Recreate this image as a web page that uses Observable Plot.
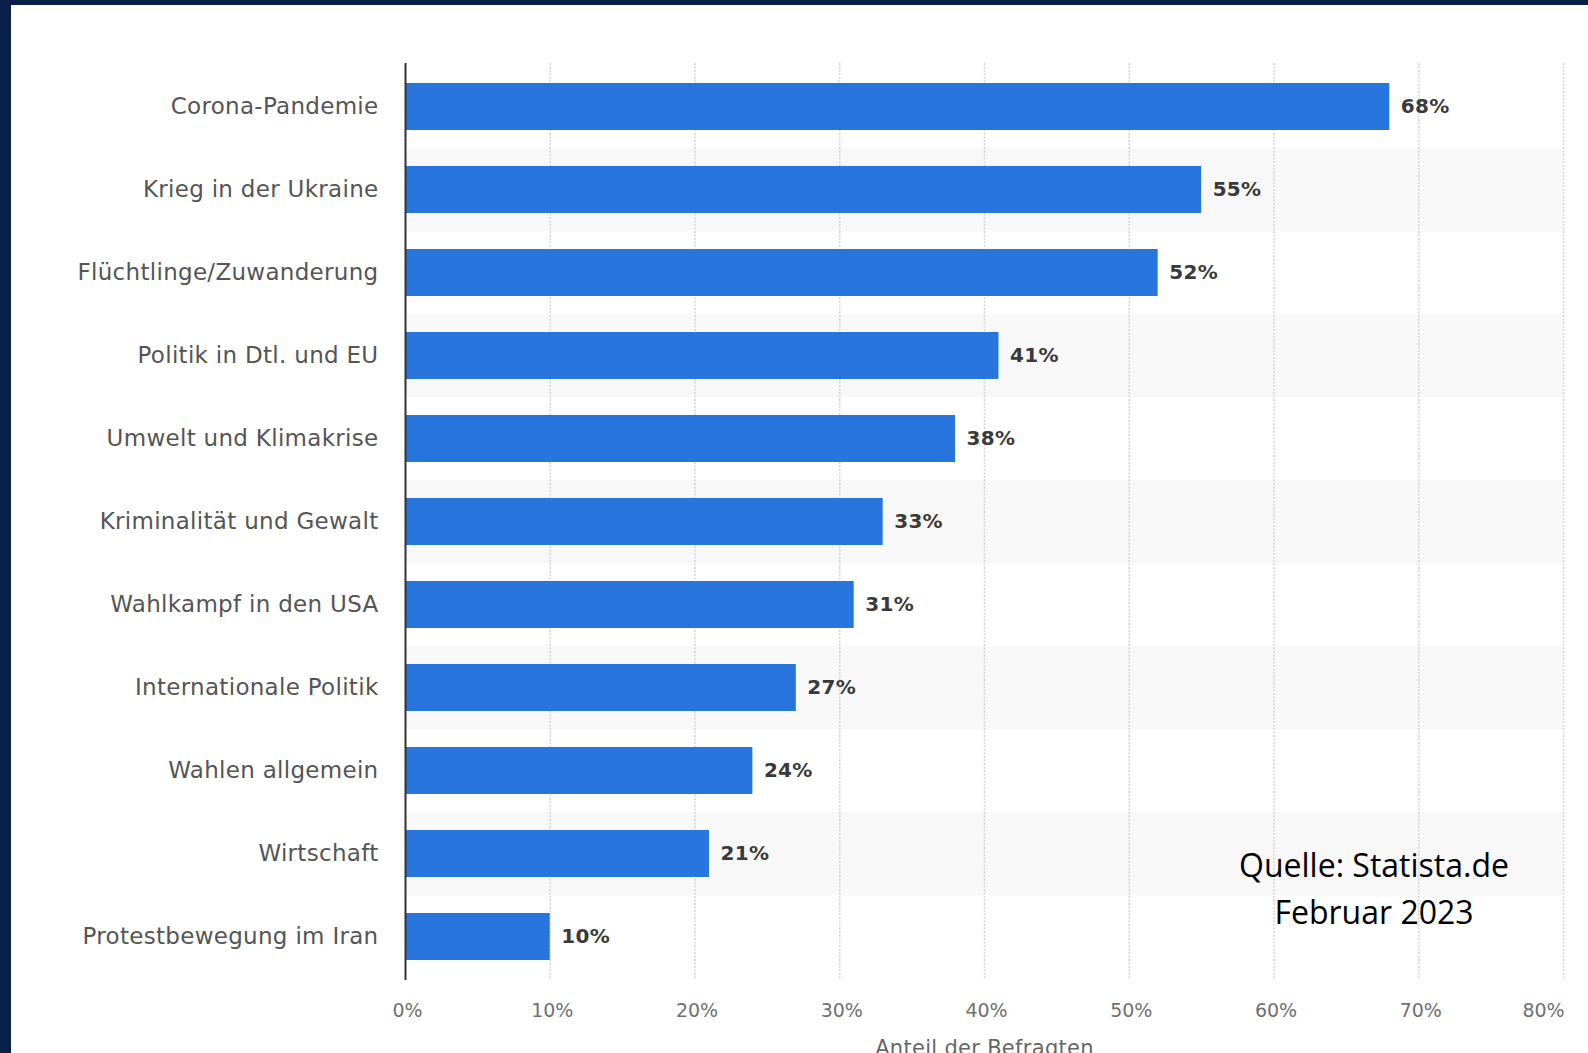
<!DOCTYPE html>
<html>
<head>
<meta charset="utf-8">
<script src="https://cdn.jsdelivr.net/npm/d3@7"></script>
<script src="https://cdn.jsdelivr.net/npm/@observablehq/plot@0.6"></script>
<style>
  html, body { margin: 0; padding: 0; }
  body { width: 1588px; height: 1053px; background: #0b1f4b; position: relative; overflow: hidden; }
  #panel { position: absolute; left: 11px; top: 5px; width: 1577px; height: 1048px; background: #ffffff; }
  #chart { position: absolute; left: 0; top: 0; }
  #source { position: absolute; left: 1174px; top: 841px; width: 400px; text-align: center;
            font-family: "Open Sans", sans-serif; font-size: 32px; line-height: 47px; color: #000; }
  g[aria-label="y-axis tick label"] text { letter-spacing: 0.3px; }
  g[aria-label="text"] text { letter-spacing: 0.3px; }
</style>
</head>
<body>
<div id="panel"></div>
<div id="chart"></div>
<div id="source">Quelle: Statista.de<br>Februar 2023</div>
<script>
const categories = [
  "Corona-Pandemie",
  "Krieg in der Ukraine",
  "Flüchtlinge/Zuwanderung",
  "Politik in Dtl. und EU",
  "Umwelt und Klimakrise",
  "Kriminalität und Gewalt",
  "Wahlkampf in den USA",
  "Internationale Politik",
  "Wahlen allgemein",
  "Wirtschaft",
  "Protestbewegung im Iran"
];
const values = [68, 55, 52, 41, 38, 33, 31, 27, 24, 21, 10];
const xTicks = [0, 10, 20, 30, 40, 50, 60, 70, 80];
const axisTitle = "Anteil der Befragten";

const data = categories.map((c, i) => ({category: c, value: values[i]}));
const stripes = categories.filter((c, i) => i % 2 === 1);
const xMax = xTicks[xTicks.length - 1];

const chart = Plot.plot({
  width: 1588,
  height: 1053,
  marginLeft: 405,
  marginRight: 25,
  marginTop: 63,
  marginBottom: 73,
  style: {fontFamily: "DejaVu Sans, sans-serif", background: "transparent", overflow: "visible"},
  x: {domain: [0, xMax]},
  y: {domain: categories, paddingInner: 0.436, paddingOuter: 0.218},
  marks: [
    Plot.barX(stripes, {x1: 0, x2: xMax, y: d => d, fill: "#f8f8f8", insetTop: -18.3, insetBottom: -18.3}),
    Plot.ruleX(xTicks.filter(d => d > 0), {stroke: "#d4d4d4", strokeWidth: 1.5, strokeDasharray: "2,1.5"}),
    Plot.barX(data, {x: "value", y: "category", fill: "#2876dd"}),
    Plot.ruleX([0], {stroke: "#333333", strokeWidth: 2}),
    Plot.text(data, {x: "value", y: "category", text: d => d.value + "%", dx: 11, textAnchor: "start",
      fontWeight: "bold", fontSize: 20, fill: "#3a3a3a"}),
    Plot.axisY({tickSize: 0, tickPadding: 27, fontSize: 23, fill: "#555555", label: null}),
    Plot.axisX({ticks: xTicks.slice(0, -1), tickSize: 0, tickPadding: 23, fontSize: 19, fill: "#707070",
      tickFormat: d => d + "%", label: null, dx: 2}),
    Plot.axisX({ticks: xTicks.slice(-1), tickSize: 0, tickPadding: 23, fontSize: 19, fill: "#707070",
      tickFormat: d => d + "%", label: null, dx: -20}),
    Plot.text([axisTitle], {frameAnchor: "bottom", dy: 74, lineAnchor: "bottom", fontSize: 21, fill: "#666666"})
  ]
});
document.getElementById("chart").appendChild(chart);
</script>
</body>
</html>
